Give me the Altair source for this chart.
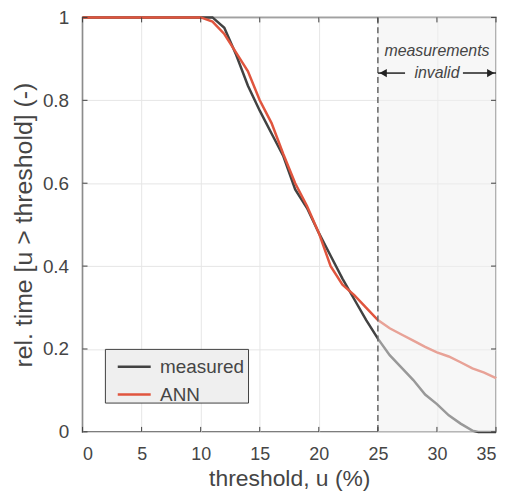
import altair as alt
import pandas as pd

# ---- data ----
meas_x = [0, 10, 11, 12, 13, 14, 15, 16, 17, 18, 19, 20, 21, 22, 23, 24, 25,
          26, 27, 28, 29, 30, 31, 32, 33, 33.5, 35]
meas_y = [1, 1, 1, 0.975, 0.91, 0.835, 0.775, 0.72, 0.665, 0.585, 0.54, 0.48,
          0.425, 0.37, 0.32, 0.27, 0.225, 0.185, 0.155, 0.125, 0.09, 0.067,
          0.04, 0.02, 0.003, 0, 0]
ann_x = [0, 10, 11, 12, 13, 14, 15, 16, 17, 18, 19, 20, 21, 22, 23, 24, 25,
         26, 27, 28, 29, 30, 31, 32, 33, 34, 35]
ann_y = [1, 1, 0.99, 0.96, 0.915, 0.87, 0.8, 0.745, 0.67, 0.6, 0.545, 0.48,
         0.4, 0.355, 0.33, 0.3, 0.27, 0.25, 0.235, 0.22, 0.205, 0.192, 0.182,
         0.168, 0.153, 0.143, 0.13]
series_names = ["measured", "ANN"]
series_colors = ["#424242", "#e0553e"]
x_ticks = [0, 5, 10, 15, 20, 25, 30, 35]
y_ticks = [0, 0.2, 0.4, 0.6, 0.8, 1]
invalid_start = 25
invalid_end = 35
note_x = 30
arrow_left = [25, 27.3]
arrow_right = [32.2, 35]

W, H = 416, 417
FONT = "Liberation Sans"
TXT = "#454545"

lines_df = pd.DataFrame(
    {"x": meas_x + ann_x,
     "y": meas_y + ann_y,
     "series": ["measured"] * len(meas_x) + ["ANN"] * len(ann_x)}
)

xs = alt.Scale(domain=[0, 35], nice=False, zero=False)
ys = alt.Scale(domain=[0, 1], nice=False, zero=False)

base_x_axis = alt.Axis(values=x_ticks, grid=True, ticks=False, domain=False,
                       labelPadding=14, labelFontSize=18,
                       titleY=54, titleBaseline="alphabetic",
                       titleFontSize=23,
                       title="threshold, u (%)")
base_y_axis = alt.Axis(values=y_ticks, grid=True, ticks=False, domain=False,
                       format="~g", labelPadding=14, titlePadding=6,
                       title="rel. time [u > threshold] (-)")

# legend box (layout only)
legend_box = alt.Chart(pd.DataFrame({"k": [0]})).mark_rect(
    fill="#efefef", stroke="#404040", strokeWidth=1
).encode(x=alt.value(23), x2=alt.value(167), y=alt.value(334), y2=alt.value(388))

lines = alt.Chart(lines_df).mark_line(strokeWidth=2.5).encode(
    x=alt.X("x:Q", scale=xs, axis=base_x_axis),
    y=alt.Y("y:Q", scale=ys, axis=base_y_axis),
    color=alt.Color("series:N",
                    scale=alt.Scale(domain=series_names, range=series_colors),
                    sort=series_names,
                    legend=alt.Legend(title=None, orient="none",
                                      legendX=34, legendY=333.5,
                                      symbolType="stroke", symbolSize=1100,
                                      symbolStrokeWidth=2.5,
                                      labelFontSize=19, labelFont=FONT,
                                      labelColor=TXT, labelOffset=8,
                                      padding=0, rowPadding=-11)),
)

shade_df = pd.DataFrame({"x": [invalid_start], "x2": [invalid_end]})
shade = alt.Chart(shade_df).mark_rect(fill="#efefef", opacity=0.5).encode(
    x=alt.X("x:Q", scale=xs), x2="x2:Q",
    y=alt.value(0), y2=alt.value(H),
)

vline = alt.Chart(shade_df).mark_rule(color="#666666", strokeWidth=1.5,
                                      strokeDash=[6, 4]).encode(
    x=alt.X("x:Q", scale=xs),
    y=alt.value(0), y2=alt.value(H),
)

xt_df = pd.DataFrame({"x": x_ticks})
yt_df = pd.DataFrame({"y": y_ticks})
tick_style = dict(color="#404040", strokeWidth=1)
xt_bottom = alt.Chart(xt_df).mark_rule(**tick_style).encode(
    x=alt.X("x:Q", scale=xs), y=alt.value(H), y2=alt.value(H - 5))
xt_top = alt.Chart(xt_df).mark_rule(**tick_style).encode(
    x=alt.X("x:Q", scale=xs), y=alt.value(0), y2=alt.value(5))
yt_left = alt.Chart(yt_df).mark_rule(**tick_style).encode(
    y=alt.Y("y:Q", scale=ys), x=alt.value(0), x2=alt.value(5))
yt_right = alt.Chart(yt_df).mark_rule(**tick_style).encode(
    y=alt.Y("y:Q", scale=ys), x=alt.value(W), x2=alt.value(W - 5))

note_df = pd.DataFrame({"x": [note_x, note_x],
                        "t": ["measurements", "invalid"],
                        "py": [34, 56]})
notes = alt.Chart(note_df).mark_text(font=FONT, fontSize=16, fontStyle="italic",
                                     color=TXT, align="center",
                                     baseline="middle").encode(
    x=alt.X("x:Q", scale=xs), y=alt.Y("py:Q", scale=None), text="t:N")

arr_df = pd.DataFrame({"x": [arrow_left[0], arrow_right[0]],
                       "x2": [arrow_left[1], arrow_right[1]]})
arr_lines = alt.Chart(arr_df).mark_rule(color="#222222", strokeWidth=1.5).encode(
    x=alt.X("x:Q", scale=xs), x2="x2:Q", y=alt.value(56))
head_df = pd.DataFrame({"x": [invalid_start + 0.45, invalid_end - 0.45],
                        "shape": ["triangle-left", "triangle-right"]})
heads = alt.Chart(head_df).mark_point(filled=True, color="#222222", size=70,
                                      opacity=1).encode(
    x=alt.X("x:Q", scale=xs), y=alt.value(56),
    shape=alt.Shape("shape:N", scale=None, legend=None))

chart = alt.layer(
    legend_box, lines, shade, vline, xt_bottom, xt_top, yt_left, yt_right,
    arr_lines, heads, notes
).properties(
    width=W, height=H,
    autosize=alt.AutoSizeParams(type="none"),
    padding={"left": 75, "top": 8, "right": 2, "bottom": 59},
).configure_view(
    stroke="#404040", strokeWidth=1.5
).configure_axis(
    labelFont=FONT, titleFont=FONT, labelFontSize=19, titleFontSize=25,
    labelColor=TXT, titleColor=TXT, titleFontWeight="normal",
    gridColor="#e6e6e6", gridWidth=1,
)

chart.save("out.html", embed_options={"renderer": "svg", "actions": False})
